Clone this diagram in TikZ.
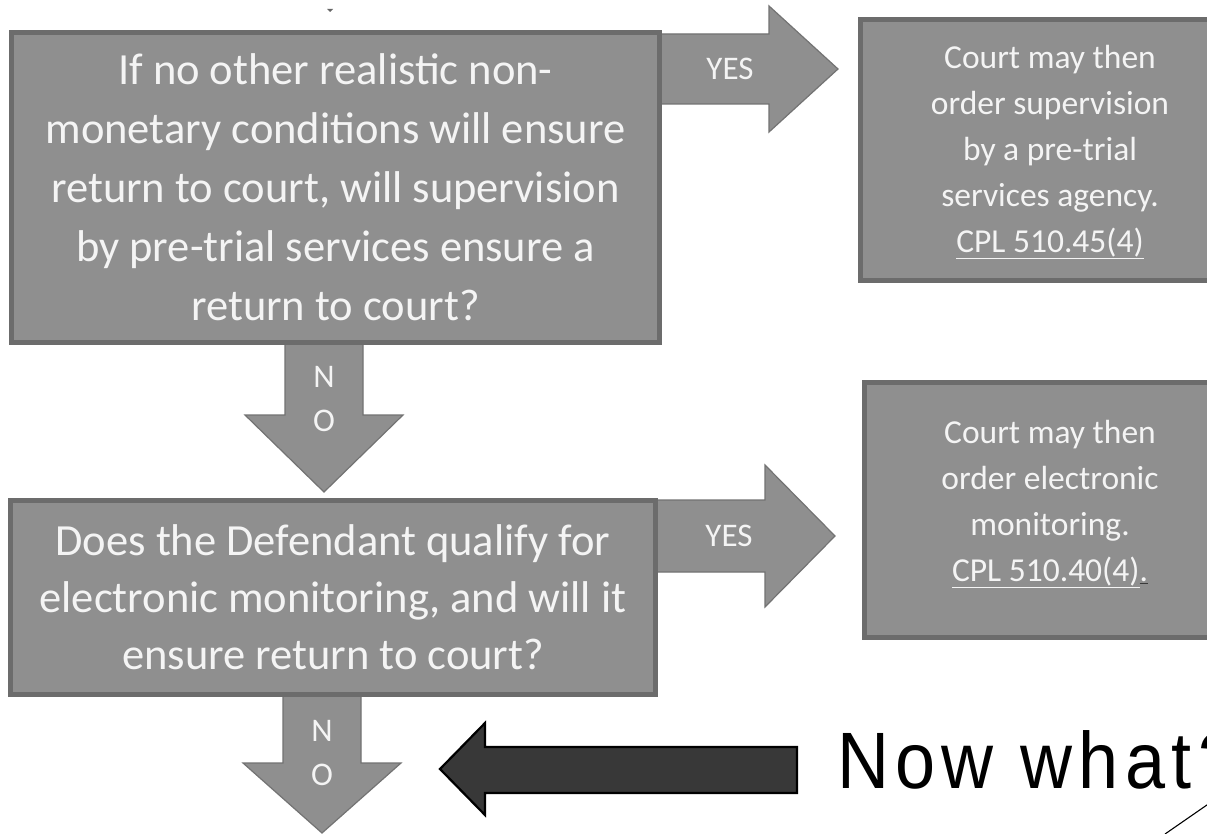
\documentclass[tikz,border=0pt]{standalone}
\usepackage{fontspec}
\setmainfont{Carlito}
\newfontfamily\nowfont[FakeStretch=0.9,LetterSpace=8]{Liberation Sans}
\usetikzlibrary{calc,backgrounds}
\definecolor{boxfill}{HTML}{8F8F8F}
\definecolor{boxedge}{HTML}{6C6C6C}
\definecolor{arrowedge}{HTML}{737373}
\definecolor{lighttext}{HTML}{F4F4F4}
\definecolor{darkarrow}{HTML}{383838}
\definecolor{dotline}{HTML}{3A3A3A}
\begin{document}
\begin{tikzpicture}[x=1pt,y=-1pt,
  qbox/.style={draw=boxedge, fill=boxfill, line width=5pt, text=lighttext,
    align=center, inner sep=0pt},
  rbox/.style={draw=boxedge, fill=boxfill, line width=5pt, inner sep=0pt},
  rtext/.style={text=lighttext, align=center, inner sep=0pt,
    font=\fontsize{33.5}{46}\selectfont},
  garrow/.style={fill=boxfill, draw=arrowedge, line width=1.2pt, line join=miter},
  alabel/.style={text=lighttext, align=center, inner sep=0pt,
    font=\fontsize{33}{44}\selectfont},
  darr/.style={fill=darkarrow, draw=black, line width=2.2pt, line join=miter},
  ]
\useasboundingbox (0,0) rectangle (1207,834);

% question boxes
\node[qbox, minimum width=648pt, minimum height=310pt,
  font=\fontsize{44.5}{59}\selectfont] (q1) at (335.5,187.5)
  {If no other realistic non-\\monetary conditions will ensure\\return to court, will supervision\\by pre-trial services ensure a\\return to court?};
\node[qbox, minimum width=645pt, minimum height=194pt,
  font=\fontsize{44.5}{57}\selectfont] (q2) at (333,597.5)
  {Does the Defendant qualify for\\electronic monitoring, and will it\\ensure return to court?};

% result boxes
\node[rbox, minimum width=387pt, minimum height=261pt] (r1) at (1054,150) {};
\node[rtext] (r1t) at (1050,152)
  {Court may then\\order supervision\\by a pre-trial\\services agency.\\\underline{CPL 510.45(4)}};
\node[rbox, minimum width=383pt, minimum height=255pt] (r2) at (1056,510) {};
\node[rtext] (r2t) at (1050,504)
  {Court may then\\order electronic\\monitoring.\\\underline{CPL 510.40(4)}{\color{dotline}\underline{\textcolor{lighttext}{.}}}};

% arrow labels
\node[alabel] (yes1) at (730,69) {YES};
\node[alabel] (yes2) at (729,536) {YES};
\node[alabel] (no1) at (324,399.5) {N\\O};
\node[alabel] (no2) at (322,753.5) {N\\O};

% closing question
\node[anchor=base west, inner sep=0pt, font={\fontsize{80}{90}\selectfont\nowfont}]
  (now) at (837,788) {Now what?};
\coordinate (tail) at (797,770);
\coordinate (c1) at (1165,834);
\coordinate (c2) at (1230,789);

\begin{pgfonlayer}{background}
  \fill[white] (0,0) rectangle (1207,834);
  % block arrows between the boxes
  \draw[garrow] ($(q1.east |- yes1)+(-6,-35)$) -- ++(113,0) -- ++(0,-28)
    -- ++(69,63) -- ++(-69,63) -- ++(0,-28) -- ++(-113,0) -- cycle;
  \draw[garrow] ($(q2.east |- yes2)+(-6,-36)$) -- ++(113,0) -- ++(0,-35)
    -- ++(70,71) -- ++(-70,71) -- ++(0,-35) -- ++(-113,0) -- cycle;
  \draw[garrow] ($(no1 |- q1.south)+(-39,-6)$) -- ++(0,76) -- ++(-40,0)
    -- ++(79,77) -- ++(79,-77) -- ++(-40,0) -- ++(0,-76) -- cycle;
  \draw[garrow] ($(no2 |- q2.south)+(-39,-6)$) -- ++(0,72) -- ++(-40,0)
    -- ++(79,70) -- ++(79,-70) -- ++(-40,0) -- ++(0,-72) -- cycle;
\end{pgfonlayer}

% pointer arrow towards the last NO arrow
\draw[darr] ($(tail)+(0,-23)$) -- ++(0,46) -- ++(-312,0) -- ++(0,22)
  -- ++(-45,-46) -- ++(45,-46) -- ++(0,24) -- cycle;

% callout line and small mark
\draw[black, line width=1.1pt] (c1) -- (c2);
\fill[black!60] (327,9) -- (333,9) -- (330,12) -- cycle;
\end{tikzpicture}
\end{document}
